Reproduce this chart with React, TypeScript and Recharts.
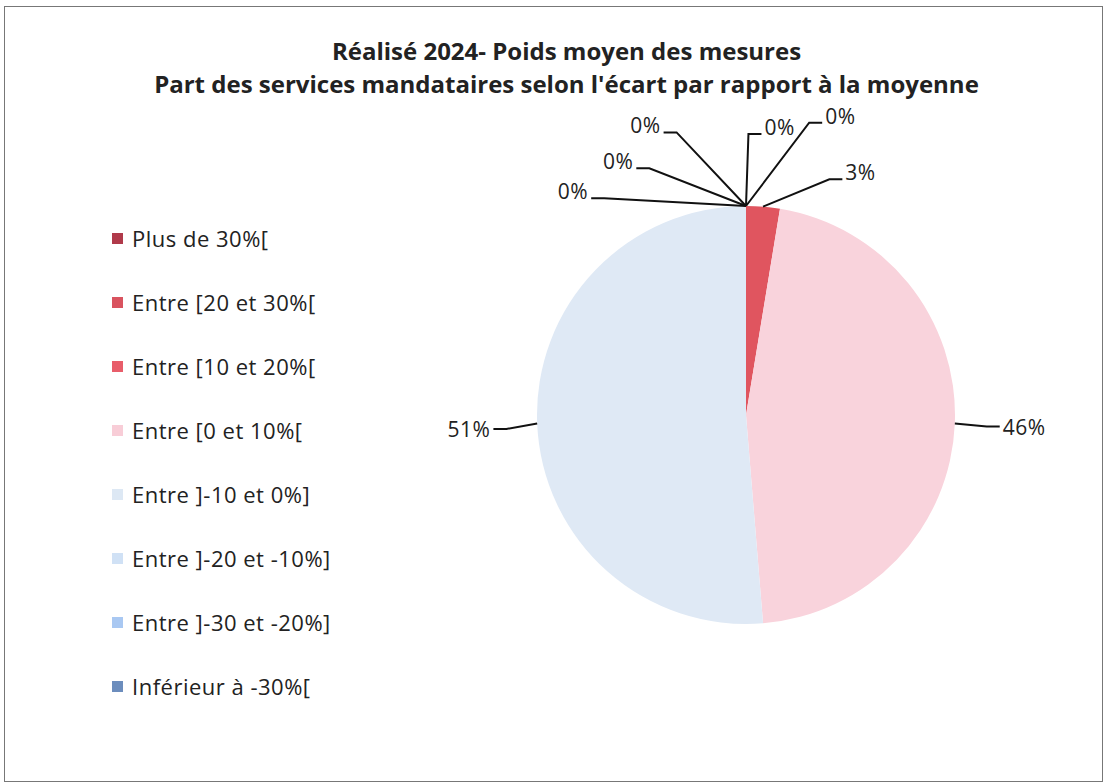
import { PieChart, Pie, Cell } from "recharts";

const categories = [
  "Plus de 30%[",
  "Entre [20 et 30%[",
  "Entre [10 et 20%[",
  "Entre [0 et 10%[",
  "Entre ]-10 et 0%]",
  "Entre ]-20 et -10%]",
  "Entre ]-30 et -20%]",
  "Inférieur à -30%[",
];
const shares = [0, 0, 2.6, 46.1, 51.3, 0, 0, 0];
const legendColors = ["#B03A4A", "#D9535F", "#E85D6A", "#F8CDD7", "#DDE8F4", "#D0E1F5", "#A9C8F2", "#6C8DBD"];
const sliceColors = ["#B03A4A", "#D9535F", "#E0555F", "#F9D3DC", "#DFE9F5", "#D0E1F5", "#A9C8F2", "#6C8DBD"];

const FONT = "'Open Sans', sans-serif";
const RADIAN = Math.PI / 180;

// [angle shift, extra radius] for each label elbow, so the zero slices fan out
const LABEL_SPREAD: [number, number][] = [
  [-0.5, 72],
  [-12.2, 90],
  [-14.8, 41],
  [-0.4, 32],
  [1.0, 31],
  [13.8, 82],
  [21.4, 56],
  [33.2, 50],
];

const data = categories.map((name, i) => ({ name, value: shares[i] }));

const renderLabel = (props: any) => {
  const { cx, cy, midAngle, outerRadius, index, percent } = props;
  const [shift, extra] = LABEL_SPREAD[index];
  const a = midAngle + shift;
  const sx = cx + outerRadius * Math.cos(-midAngle * RADIAN);
  const sy = cy + outerRadius * Math.sin(-midAngle * RADIAN);
  const ex = cx + (outerRadius + extra) * Math.cos(-a * RADIAN);
  const ey = cy + (outerRadius + extra) * Math.sin(-a * RADIAN);
  const right = Math.cos(-a * RADIAN) >= 0;
  const tx = ex + (right ? 13 : -13);
  const upper = Math.sin(-a * RADIAN) < -0.5;
  return (
    <g key={`lbl-${index}`}>
      <polyline points={`${sx},${sy} ${ex},${ey} ${tx},${ey}`} fill="none" stroke="#111" strokeWidth={2} />
      <text
        x={tx + (right ? 3 : -3)}
        y={ey - (upper ? 7 : 0)}
        textAnchor={right ? "start" : "end"}
        dominantBaseline="central"
        fontFamily={FONT}
        fontSize={21}
        letterSpacing={0.5}
        fill="#222"
      >
        {`${Math.round(percent * 100)}%`}
      </text>
    </g>
  );
};

export default function App() {
  return (
    <div
      style={{
        position: "absolute",
        left: 4,
        top: 6,
        width: 1097,
        height: 774,
        border: "1px solid #777",
        background: "#fff",
      }}
    >
      <div
        style={{
          position: "absolute",
          top: 27,
          left: 13,
          width: "100%",
          textAlign: "center",
          fontFamily: FONT,
          fontWeight: "bold",
          fontSize: 24,
          lineHeight: "33px",
          color: "#222",
        }}
      >
        Réalisé 2024- Poids moyen des mesures
        <br />
        Part des services mandataires selon l'écart par rapport à la moyenne
      </div>
      <div
        style={{
          position: "absolute",
          left: 107,
          top: 199,
          fontFamily: FONT,
          fontSize: 22,
          letterSpacing: 0.5,
          color: "#222",
        }}
      >
        {categories.map((c, i) => (
          <div key={c} style={{ height: 64, display: "flex", alignItems: "center" }}>
            <span
              style={{ width: 11, height: 11, background: legendColors[i], marginRight: 9, display: "inline-block" }}
            />
            {c}
          </div>
        ))}
      </div>
      <PieChart width={1097} height={774} style={{ position: "absolute", left: 0, top: 0 }}>
        <Pie
          data={data}
          dataKey="value"
          nameKey="name"
          cx={736}
          cy={403}
          outerRadius={209}
          startAngle={90}
          endAngle={-270}
          stroke="none"
          label={renderLabel}
          labelLine={false}
          isAnimationActive={false}
        >
          {data.map((d, i) => (
            <Cell key={d.name} fill={sliceColors[i]} />
          ))}
        </Pie>
      </PieChart>
    </div>
  );
}
